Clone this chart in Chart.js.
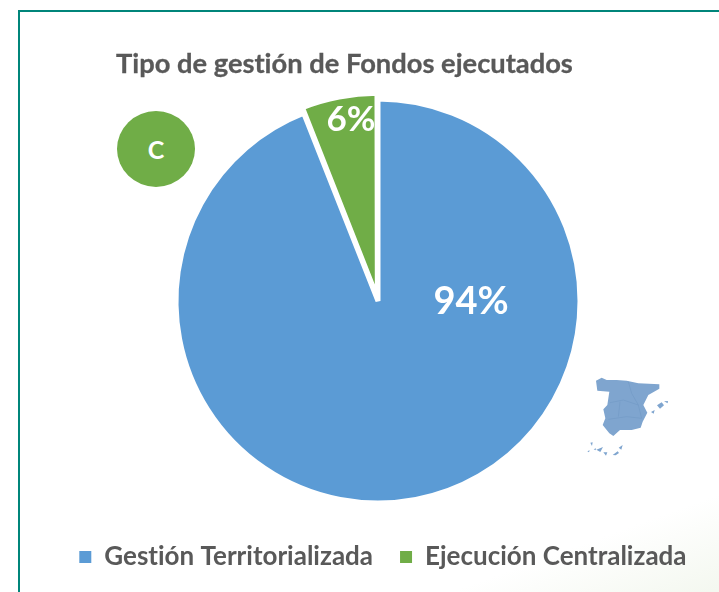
<!DOCTYPE html>
<html lang="es"><head><meta charset="utf-8">
<script src="https://cdn.jsdelivr.net/npm/chart.js@4"></script>
<style>
html,body{margin:0;padding:0;width:719px;height:592px;overflow:hidden;background:#fff;font-family:Lato,sans-serif}
#frame{position:absolute;left:18px;top:10px;width:720px;height:600px;border:2px solid #00857a;box-sizing:border-box;
background:linear-gradient(160deg,#fff 0,#fff 86%,#f1f6ec 100%)}
canvas{position:absolute;left:0;top:0}
#title{position:absolute;left:116px;top:46px;font:bold 27.3px Lato,sans-serif;color:#595959;white-space:nowrap;font-variant-ligatures:none;-webkit-text-stroke:0.3px #595959}
#badge{position:absolute;left:117px;top:111px;width:78px;height:76px;border-radius:50%;background:#70ad47;color:#fff;
font:bold 25px Lato,sans-serif;display:flex;align-items:center;justify-content:center}
#map{position:absolute;left:560px;top:350px;filter:blur(0.4px)}
</style></head><body>
<div id="frame"></div>
<canvas id="c" width="719" height="592"></canvas>
<div id="title">Tipo de gestión de Fondos ejecutados</div>
<div id="badge">C</div>
<svg id="map" width="130" height="120" viewBox="0 0 390 360">
<g fill="#7fa5cf">
<path d="M108 92L125 83L140 90L170 90L200 92L235 100L298 103L298 116L265 135L250 165L262 188L248 215L242 233L215 240L180 240L160 258L148 250L128 225L136 205L130 178L142 165L148 125L112 122Z"/>
<path d="M291 166L305 157L312 166L300 176ZM273 186L284 180L281 191ZM312 154L324 153L323 160Z"/>
<path d="M91 278L98 277L96 288ZM82 304L89 301L87 307ZM101 298L108 295L107 301ZM109 299L129 291L121 306ZM130 307L142 307L138 317ZM158 315L173 304L177 309L167 316ZM176 293L188 285L184 299Z"/>
</g>
<g fill="none" stroke="#6f96c2" stroke-width="1.5"><path d="M150 158L190 150L235 165M205 95L215 130L235 165L245 205M145 208L200 200L245 205M180 155L175 200"/></g>
</svg>
<script>
const categories = ["Gestión Territorializada", "Ejecución Centralizada"];
const shares = [94, 6];
const sliceColors = ["#5b9bd5", "#70ad47"];
const sliceOffsets = [0, 14];

const sliceLabels = {
  id: "sliceLabels",
  beforeDraw(chart) { chart.ctx.textRendering = "optimizeSpeed"; },
  afterDatasetsDraw(chart) {
    const arc = chart.getDatasetMeta(0).data[0];
    const ctx = chart.ctx;
    ctx.save();
    ctx.fillStyle = "#fff";
    ctx.textAlign = "center";
    ctx.textBaseline = "middle";
    ctx.font = "bold 38px Lato, sans-serif";
    ctx.fillText(shares[0] + "%", arc.x + 93, arc.y + 1);
    ctx.font = "bold 35px Lato, sans-serif";
    ctx.fillText(shares[1] + "%", arc.x - 27, arc.y - 181);
    ctx.restore();
  }
};

new Chart(document.getElementById("c"), {
  type: "pie",
  data: {
    labels: categories,
    datasets: [{
      data: shares,
      backgroundColor: sliceColors,
      borderColor: "#fff",
      borderWidth: 5,
      offset: sliceOffsets
    }]
  },
  options: {
    responsive: false,
    animation: false,
    radius: 202,
    layout: { padding: { left: 42, right: 5, top: 85, bottom: 12 } },
    plugins: {
      tooltip: { enabled: false },
      title: { display: false },
      legend: {
        position: "bottom",
        align: "end",
        labels: {
          boxWidth: 12, boxHeight: 12, padding: 27,
          color: "#595959",
          font: { family: "Lato, sans-serif", size: 26, weight: "bold" },
          generateLabels(chart) {
            return Chart.overrides.pie.plugins.legend.labels.generateLabels(chart)
              .map(item => ({ ...item, lineWidth: 0 }));
          }
        }
      }
    }
  },
  plugins: [sliceLabels]
});
</script>
</body></html>
